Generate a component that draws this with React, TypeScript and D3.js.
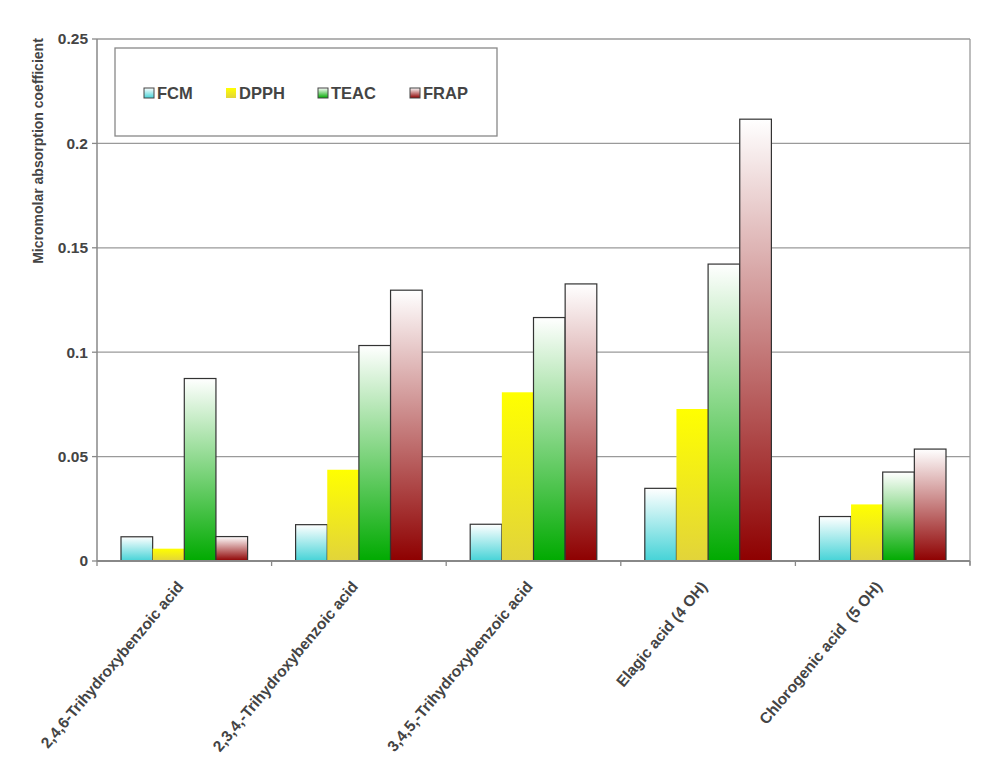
import React from 'react';
import * as d3 from 'd3';

const categories = [
  '2,4,6-Trihydroxybenzoic acid',
  '2,3,4,-Trihydroxybenzoic acid',
  '3,4,5,-Trihydroxybenzoic acid',
  'Elagic acid (4 OH)',
  'Chlorogenic acid  (5 OH)',
];
const seriesNames = ['FCM', 'DPPH', 'TEAC', 'FRAP'];
const fcm = [0.0116, 0.0174, 0.0176, 0.0348, 0.0213];
const dpph = [0.0059, 0.0437, 0.0808, 0.0728, 0.0271];
const teac = [0.0874, 0.1032, 0.1166, 0.1422, 0.0426];
const frap = [0.0117, 0.1297, 0.1327, 0.2116, 0.0536];
const yTicks = [0, 0.05, 0.1, 0.15, 0.2, 0.25];

const seriesValues = [fcm, dpph, teac, frap];

// gradient stops (top, bottom) and outline per series
const looks = [
  { top: '#ffffff', bottom: '#45d3d7', stroke: '#333' },
  { top: '#ffff00', bottom: '#e2d43a', stroke: 'none' },
  { top: '#ffffff', bottom: '#00aa00', stroke: '#333' },
  { top: '#ffffff', bottom: '#8e0000', stroke: '#333' },
];

const W = 1000;
const H = 767;
const left = 97;
const right = 970;
const top = 39;
const bottom = 561;
const font = '"Liberation Sans", Arial, sans-serif';
const textColor = '#444';

export default function App() {
  const x = d3.scaleBand<string>().domain(categories).range([left, right]);
  const x1 = d3
    .scaleBand<string>()
    .domain(seriesNames)
    .range([24, x.bandwidth() - 24]);
  const y = d3.scaleLinear().domain([0, 0.25]).range([bottom, top]);
  const fmt = (v: number) => (v === 0 ? '0' : String(v));

  const legendX = [144, 226, 318, 410];

  return (
    <svg
      width={W}
      height={H}
      style={{ position: 'absolute', left: 0, top: 0, background: '#fff' }}
      fontFamily={font}
    >
      <defs>
        {looks.map((l, i) => (
          <linearGradient key={i} id={'grad' + i} x1="0" y1="0" x2="0" y2="1">
            <stop offset="0%" stopColor={l.top} />
            <stop offset="100%" stopColor={l.bottom} />
          </linearGradient>
        ))}
      </defs>

      {/* grid */}
      {yTicks.slice(1).map((t) => (
        <line key={t} x1={left} x2={right} y1={y(t)} y2={y(t)} stroke="#9a9a9a" strokeWidth={1.3} />
      ))}
      <line x1={right} x2={right} y1={top} y2={bottom + 4} stroke="#9a9a9a" strokeWidth={1.3} />

      {/* bars */}
      {categories.map((c, ci) => (
        <g key={c} transform={`translate(${x(c)},0)`}>
          {seriesNames.map((s, si) => {
            const v = seriesValues[si][ci];
            return (
              <rect
                key={s}
                x={x1(s)}
                y={y(v)}
                width={x1.bandwidth()}
                height={y(0) - y(v)}
                fill={`url(#grad${si})`}
                stroke={looks[si].stroke}
                strokeWidth={1.2}
              />
            );
          })}
        </g>
      ))}

      {/* axes */}
      <line x1={left} x2={left} y1={top} y2={bottom} stroke="#888" strokeWidth={1.5} />
      <line x1={left} x2={right} y1={bottom} y2={bottom} stroke="#888" strokeWidth={2} />
      {yTicks.map((t) => (
        <g key={t}>
          <line x1={left - 5} x2={left} y1={y(t)} y2={y(t)} stroke="#888" strokeWidth={1.3} />
          <text
            x={left - 9}
            y={y(t)}
            dy="0.35em"
            textAnchor="end"
            fontSize={15.5}
            fontWeight="bold"
            fill={textColor}
          >
            {fmt(t)}
          </text>
        </g>
      ))}
      {categories.map((c) => (
        <line key={c} x1={x(c)} x2={x(c)} y1={bottom} y2={bottom + 5} stroke="#888" strokeWidth={1.3} />
      ))}
      <line x1={right} x2={right} y1={bottom} y2={bottom + 5} stroke="#888" strokeWidth={1.3} />

      {categories.map((c) => {
        const cx = (x(c) as number) + x.bandwidth() / 2;
        return (
          <text
            key={c}
            transform={`translate(${cx},${bottom + 26}) rotate(-50)`}
            textAnchor="end"
            fontSize={15.5}
            fontWeight="bold"
            fill={textColor}
            style={{ whiteSpace: 'pre' }}
          >
            {c}
          </text>
        );
      })}

      <text
        transform={`translate(43,${(top + 263) / 2}) rotate(-90)`}
        textAnchor="middle"
        fontSize={14}
        fontWeight="bold"
        fill={textColor}
      >
        Micromolar absorption coefficient
      </text>

      {/* legend */}
      <rect x={115} y={48} width={382} height={88} fill="#fff" stroke="#888" strokeWidth={1.3} />
      {seriesNames.map((s, i) => (
        <g key={s} transform={`translate(${legendX[i]},93)`}>
          <rect
            x={0}
            y={-5}
            width={10}
            height={10}
            fill={`url(#grad${i})`}
            stroke={looks[i].stroke === 'none' ? 'none' : '#444'}
            strokeWidth={1}
          />
          <text x={13} y={0} dy="0.36em" fontSize={16.5} fontWeight="bold" fill={textColor}>
            {s}
          </text>
        </g>
      ))}
    </svg>
  );
}
